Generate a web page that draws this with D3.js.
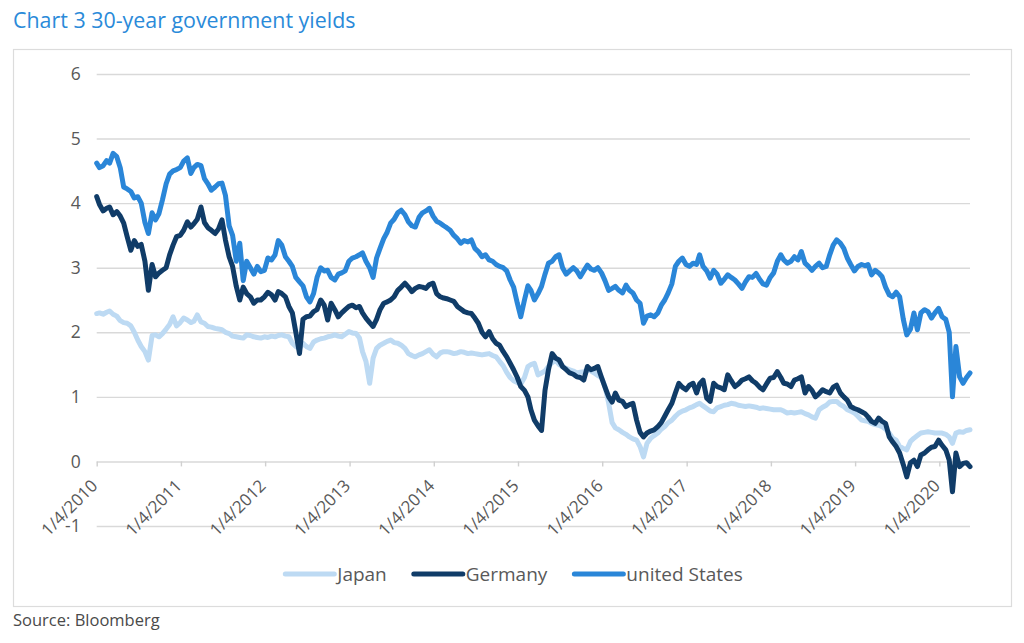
<!DOCTYPE html>
<html>
<head>
<meta charset="utf-8">
<script src="https://cdn.jsdelivr.net/npm/d3@7"></script>
<style>
  body { margin: 0; background: #fff; }
  text { font-family: "Open Sans", sans-serif; }
</style>
</head>
<body>
<svg id="chart"></svg>
<script>
const title = "Chart 3 30-year government yields";
const source = "Source: Bloomberg";
const seriesNames = ["Japan", "Germany", "united States"];
const yTicks = [-1, 0, 1, 2, 3, 4, 5, 6];
const xTickLabels = ["1/4/2010", "1/4/2011", "1/4/2012", "1/4/2013", "1/4/2014", "1/4/2015",
                     "1/4/2016", "1/4/2017", "1/4/2018", "1/4/2019", "1/4/2020"];

// one reading on the 1st and 16th of each month, first one on 4 Jan 2010, last on 16 May 2020
const firstDate = "2010-01-04";

const japan = [
  2.29, 2.30, 2.28, 2.31, 2.33, 2.28, 2.25, 2.18, 2.15, 2.14, 2.10, 2.00, 1.88, 1.78, 1.70, 1.57, 1.95, 1.96, 1.93, 1.98, 2.05, 2.12, 2.24, 2.10,
  2.15, 2.22, 2.19, 2.15, 2.17, 2.27, 2.16, 2.14, 2.09, 2.08, 2.06, 2.05, 2.04, 2.00, 1.98, 1.94, 1.93, 1.92, 1.91, 1.96, 1.95, 1.93, 1.92, 1.91,
  1.93, 1.92, 1.94, 1.93, 1.95, 1.96, 1.94, 1.93, 1.83, 1.78, 1.75, 1.83, 1.78, 1.75, 1.85, 1.88, 1.90, 1.91, 1.93, 1.94, 1.96, 1.94, 1.93, 1.97,
  2.01, 1.99, 1.98, 1.91, 1.70, 1.55, 1.21, 1.60, 1.75, 1.80, 1.83, 1.86, 1.88, 1.84, 1.83, 1.80, 1.75, 1.67, 1.64, 1.62, 1.65, 1.67, 1.70, 1.73,
  1.66, 1.62, 1.68, 1.70, 1.70, 1.69, 1.67, 1.68, 1.70, 1.69, 1.67, 1.68, 1.67, 1.66, 1.65, 1.66, 1.67, 1.64, 1.62, 1.55, 1.48, 1.38, 1.30, 1.25,
  1.22, 1.20, 1.30, 1.47, 1.50, 1.52, 1.34, 1.37, 1.40, 1.47, 1.53, 1.57, 1.50, 1.47, 1.44, 1.42, 1.40, 1.37, 1.38, 1.39, 1.42, 1.40, 1.37, 1.33,
  1.30, 1.16, 0.90, 0.60, 0.52, 0.49, 0.45, 0.42, 0.38, 0.35, 0.33, 0.23, 0.07, 0.28, 0.36, 0.40, 0.44, 0.50, 0.54, 0.60, 0.64, 0.70, 0.75, 0.78,
  0.80, 0.83, 0.85, 0.88, 0.90, 0.86, 0.82, 0.78, 0.77, 0.83, 0.85, 0.87, 0.88, 0.90, 0.89, 0.87, 0.86, 0.85, 0.86, 0.85, 0.84, 0.82, 0.83, 0.82,
  0.81, 0.80, 0.80, 0.80, 0.78, 0.75, 0.76, 0.75, 0.76, 0.77, 0.74, 0.72, 0.69, 0.67, 0.80, 0.84, 0.87, 0.92, 0.93, 0.93, 0.88, 0.85, 0.80, 0.78,
  0.75, 0.70, 0.64, 0.63, 0.62, 0.59, 0.57, 0.56, 0.54, 0.50, 0.44, 0.36, 0.33, 0.23, 0.20, 0.18, 0.31, 0.36, 0.40, 0.44, 0.45, 0.46, 0.45, 0.44,
  0.44, 0.44, 0.42, 0.38, 0.28, 0.44, 0.46, 0.45, 0.48, 0.49
];

const germany = [
  4.10, 3.98, 3.88, 3.92, 3.94, 3.82, 3.87, 3.80, 3.69, 3.48, 3.27, 3.42, 3.33, 3.36, 3.10, 2.65, 3.05, 2.86, 2.92, 2.96, 3.00, 3.20, 3.35, 3.48,
  3.50, 3.58, 3.71, 3.63, 3.68, 3.75, 3.94, 3.70, 3.62, 3.58, 3.53, 3.60, 3.74, 3.43, 3.17, 3.02, 2.71, 2.50, 2.70, 2.60, 2.55, 2.45, 2.50, 2.50,
  2.55, 2.62, 2.58, 2.50, 2.63, 2.60, 2.55, 2.40, 2.30, 2.00, 1.67, 2.20, 2.24, 2.25, 2.32, 2.35, 2.50, 2.42, 2.19, 2.45, 2.35, 2.24, 2.30, 2.35,
  2.40, 2.42, 2.38, 2.40, 2.30, 2.22, 2.15, 2.09, 2.20, 2.35, 2.45, 2.47, 2.50, 2.55, 2.65, 2.70, 2.76, 2.70, 2.63, 2.68, 2.71, 2.70, 2.68, 2.74,
  2.76, 2.60, 2.55, 2.53, 2.52, 2.50, 2.48, 2.40, 2.36, 2.32, 2.30, 2.29, 2.22, 2.14, 2.00, 1.93, 2.01, 1.90, 1.83, 1.80, 1.70, 1.62, 1.52, 1.42,
  1.30, 1.16, 1.10, 1.00, 0.80, 0.64, 0.55, 0.48, 1.10, 1.42, 1.67, 1.60, 1.57, 1.47, 1.42, 1.37, 1.35, 1.31, 1.30, 1.26, 1.47, 1.42, 1.44, 1.47,
  1.30, 1.15, 1.00, 0.92, 1.06, 0.95, 0.93, 0.85, 0.88, 0.90, 0.64, 0.45, 0.38, 0.44, 0.47, 0.49, 0.54, 0.60, 0.70, 0.80, 0.90, 1.06, 1.21, 1.15,
  1.11, 1.18, 1.21, 1.06, 1.20, 1.26, 0.98, 0.93, 1.21, 1.16, 1.14, 1.11, 1.34, 1.25, 1.16, 1.20, 1.26, 1.28, 1.31, 1.25, 1.21, 1.15, 1.11, 1.20,
  1.29, 1.30, 1.39, 1.30, 1.21, 1.20, 1.16, 1.26, 1.28, 1.31, 1.06, 1.16, 1.10, 1.00, 1.05, 1.11, 1.08, 1.06, 1.15, 1.18, 1.06, 1.00, 0.95, 0.85,
  0.82, 0.80, 0.77, 0.74, 0.69, 0.62, 0.59, 0.67, 0.62, 0.59, 0.38, 0.30, 0.23, 0.13, -0.05, -0.24, -0.02, 0.02, -0.08, 0.10, 0.13, 0.18, 0.22, 0.23,
  0.33, 0.25, 0.18, 0.02, -0.47, 0.13, -0.08, -0.03, -0.02, -0.08
];

const unitedStates = [
  4.62, 4.55, 4.58, 4.66, 4.62, 4.77, 4.72, 4.55, 4.25, 4.22, 4.18, 4.08, 4.10, 4.00, 3.70, 3.53, 3.85, 3.74, 3.84, 4.05, 4.30, 4.45, 4.50, 4.52,
  4.55, 4.65, 4.70, 4.46, 4.55, 4.60, 4.58, 4.38, 4.30, 4.20, 4.25, 4.30, 4.31, 4.12, 3.65, 3.50, 3.10, 3.38, 2.80, 3.10, 3.00, 2.90, 3.02, 2.94,
  2.96, 3.15, 3.12, 3.20, 3.42, 3.35, 3.17, 3.10, 3.02, 2.85, 2.78, 2.72, 2.55, 2.47, 2.60, 2.85, 3.00, 2.95, 2.96, 2.85, 2.81, 2.90, 2.92, 2.95,
  3.10, 3.15, 3.17, 3.20, 3.23, 3.10, 3.00, 2.85, 3.15, 3.30, 3.45, 3.55, 3.69, 3.75, 3.85, 3.89, 3.82, 3.71, 3.65, 3.63, 3.78, 3.85, 3.88, 3.92,
  3.80, 3.72, 3.69, 3.65, 3.62, 3.58, 3.50, 3.45, 3.38, 3.42, 3.40, 3.43, 3.30, 3.25, 3.17, 3.20, 3.12, 3.10, 3.05, 3.02, 3.00, 2.95, 2.81, 2.70,
  2.45, 2.24, 2.50, 2.72, 2.65, 2.50, 2.60, 2.71, 2.90, 3.07, 3.10, 3.17, 3.20, 3.00, 2.90, 2.95, 3.00, 2.95, 2.86, 2.95, 3.04, 2.98, 2.96, 3.00,
  2.92, 2.80, 2.65, 2.68, 2.71, 2.65, 2.61, 2.73, 2.65, 2.61, 2.50, 2.45, 2.14, 2.25, 2.27, 2.24, 2.30, 2.42, 2.50, 2.61, 2.75, 3.02, 3.10, 3.15,
  3.05, 3.02, 3.07, 3.05, 3.20, 3.02, 2.95, 2.84, 2.96, 2.90, 2.76, 2.82, 2.89, 2.85, 2.81, 2.75, 2.68, 2.78, 2.86, 2.85, 2.91, 2.82, 2.75, 2.73,
  2.85, 2.92, 3.10, 3.20, 3.12, 3.07, 3.10, 3.17, 3.12, 3.25, 3.07, 3.02, 2.96, 3.02, 3.07, 3.00, 3.02, 3.20, 3.35, 3.43, 3.38, 3.30, 3.15, 3.05,
  2.95, 3.02, 3.05, 3.03, 3.05, 2.89, 2.96, 2.92, 2.86, 2.70, 2.58, 2.55, 2.62, 2.55, 2.20, 1.96, 2.05, 2.30, 2.04, 2.30, 2.35, 2.32, 2.22, 2.30,
  2.37, 2.24, 2.20, 2.00, 1.00, 1.78, 1.31, 1.21, 1.30, 1.37
];

const width = 1024, height = 643;
const colors = ["#bddaf3", "#103c68", "#2a86d8"];

const svg = d3.select("#chart")
    .attr("width", width)
    .attr("height", height);

const parseDay = d3.timeParse("%Y-%m-%d");
const parseTick = d3.timeParse("%-m/%-d/%Y");

// semi-monthly dates
const dates = japan.map((_, i) => i === 0 ? parseDay(firstDate)
    : new Date(2010 + Math.floor(i / 24), Math.floor((i % 24) / 2), i % 2 ? 16 : 1));

const series = [japan, germany, unitedStates].map((vals, k) => ({
    name: seriesNames[k],
    color: colors[k],
    points: vals.map((v, i) => ({ date: dates[i], value: v }))
}));

const x = d3.scaleTime()
    .domain([dates[0], dates[dates.length - 1]])
    .range([96.7, 970]);

const y = d3.scaleLinear()
    .domain([d3.min(yTicks), d3.max(yTicks)])
    .range([526, 74]);

// frame
svg.append("rect")
    .attr("x", 13.5).attr("y", 49.5)
    .attr("width", 998).attr("height", 557)
    .attr("fill", "none")
    .attr("stroke", "#dcdcdc")
    .attr("stroke-width", 1.2);

// title + source
svg.append("text")
    .attr("x", 13).attr("y", 28)
    .attr("fill", "#2a8ad9")
    .attr("font-size", 21.4)
    .text(title);

svg.append("text")
    .attr("x", 13).attr("y", 626)
    .attr("fill", "#4a4a4a")
    .attr("font-size", 16.5)
    .text(source);

// y grid + labels
const yAxis = svg.append("g")
    .attr("transform", `translate(${x.range()[0]},0)`)
    .call(d3.axisLeft(y)
        .tickValues(yTicks)
        .tickSize(-(x.range()[1] - x.range()[0]))
        .tickPadding(16)
        .tickFormat(d => String(d)));
yAxis.select(".domain").remove();
yAxis.selectAll(".tick line").attr("stroke", "#d9d9d9").attr("stroke-width", 1.4);
yAxis.selectAll(".tick text")
    .attr("fill", "#595959")
    .attr("font-size", 17.5)
    .style("font-family", "'Open Sans', sans-serif");

// x axis at zero with small ticks and slanted dates
const xAxis = svg.append("g")
    .attr("transform", `translate(0,${y(0)})`)
    .call(d3.axisBottom(x)
        .tickValues(xTickLabels.map(parseTick))
        .tickSize(5)
        .tickFormat(d3.timeFormat("%-m/%-d/%Y")));
xAxis.select(".domain").remove();
xAxis.selectAll(".tick line").attr("stroke", "#d0d0d0").attr("stroke-width", 1.4);
xAxis.selectAll(".tick text")
    .attr("fill", "#595959")
    .attr("font-size", 17)
    .style("font-family", "'Open Sans', sans-serif")
    .attr("text-anchor", "end")
    .attr("x", -17)
    .attr("y", 13)
    .attr("dy", "0.35em")
    .attr("transform", "rotate(-45)");

// lines
const line = d3.line()
    .x(d => x(d.date))
    .y(d => y(d.value));

svg.append("g").attr("class", "lines")
    .selectAll("path")
    .data(series)
    .enter()
    .append("path")
    .attr("d", d => line(d.points))
    .attr("fill", "none")
    .attr("stroke", d => d.color)
    .attr("stroke-width", 5)
    .attr("stroke-linejoin", "round")
    .attr("stroke-linecap", "round");

// legend, centred under the frame
const legend = svg.append("g").attr("class", "legend");
const items = legend.selectAll("g")
    .data(series)
    .enter()
    .append("g");
items.append("line")
    .attr("x1", 0).attr("x2", 49)
    .attr("y1", 0).attr("y2", 0)
    .attr("stroke", d => d.color)
    .attr("stroke-width", 5)
    .attr("stroke-linecap", "round");
items.append("text")
    .attr("x", 52)
    .attr("dy", "0.35em")
    .attr("fill", "#595959")
    .attr("font-size", 19)
    .text(d => d.name);

let offset = 0;
const itemWidths = [];
items.each(function () {
    const w = 52 + d3.select(this).select("text").node().getComputedTextLength();
    itemWidths.push(w);
});
const totalWidth = d3.sum(itemWidths) + 27 * (itemWidths.length - 1);
items.attr("transform", (d, i) => {
    const tx = offset;
    offset += itemWidths[i] + 27;
    return `translate(${tx},0)`;
});
legend.attr("transform", `translate(${514 - totalWidth / 2},574)`);
</script>
</body>
</html>
